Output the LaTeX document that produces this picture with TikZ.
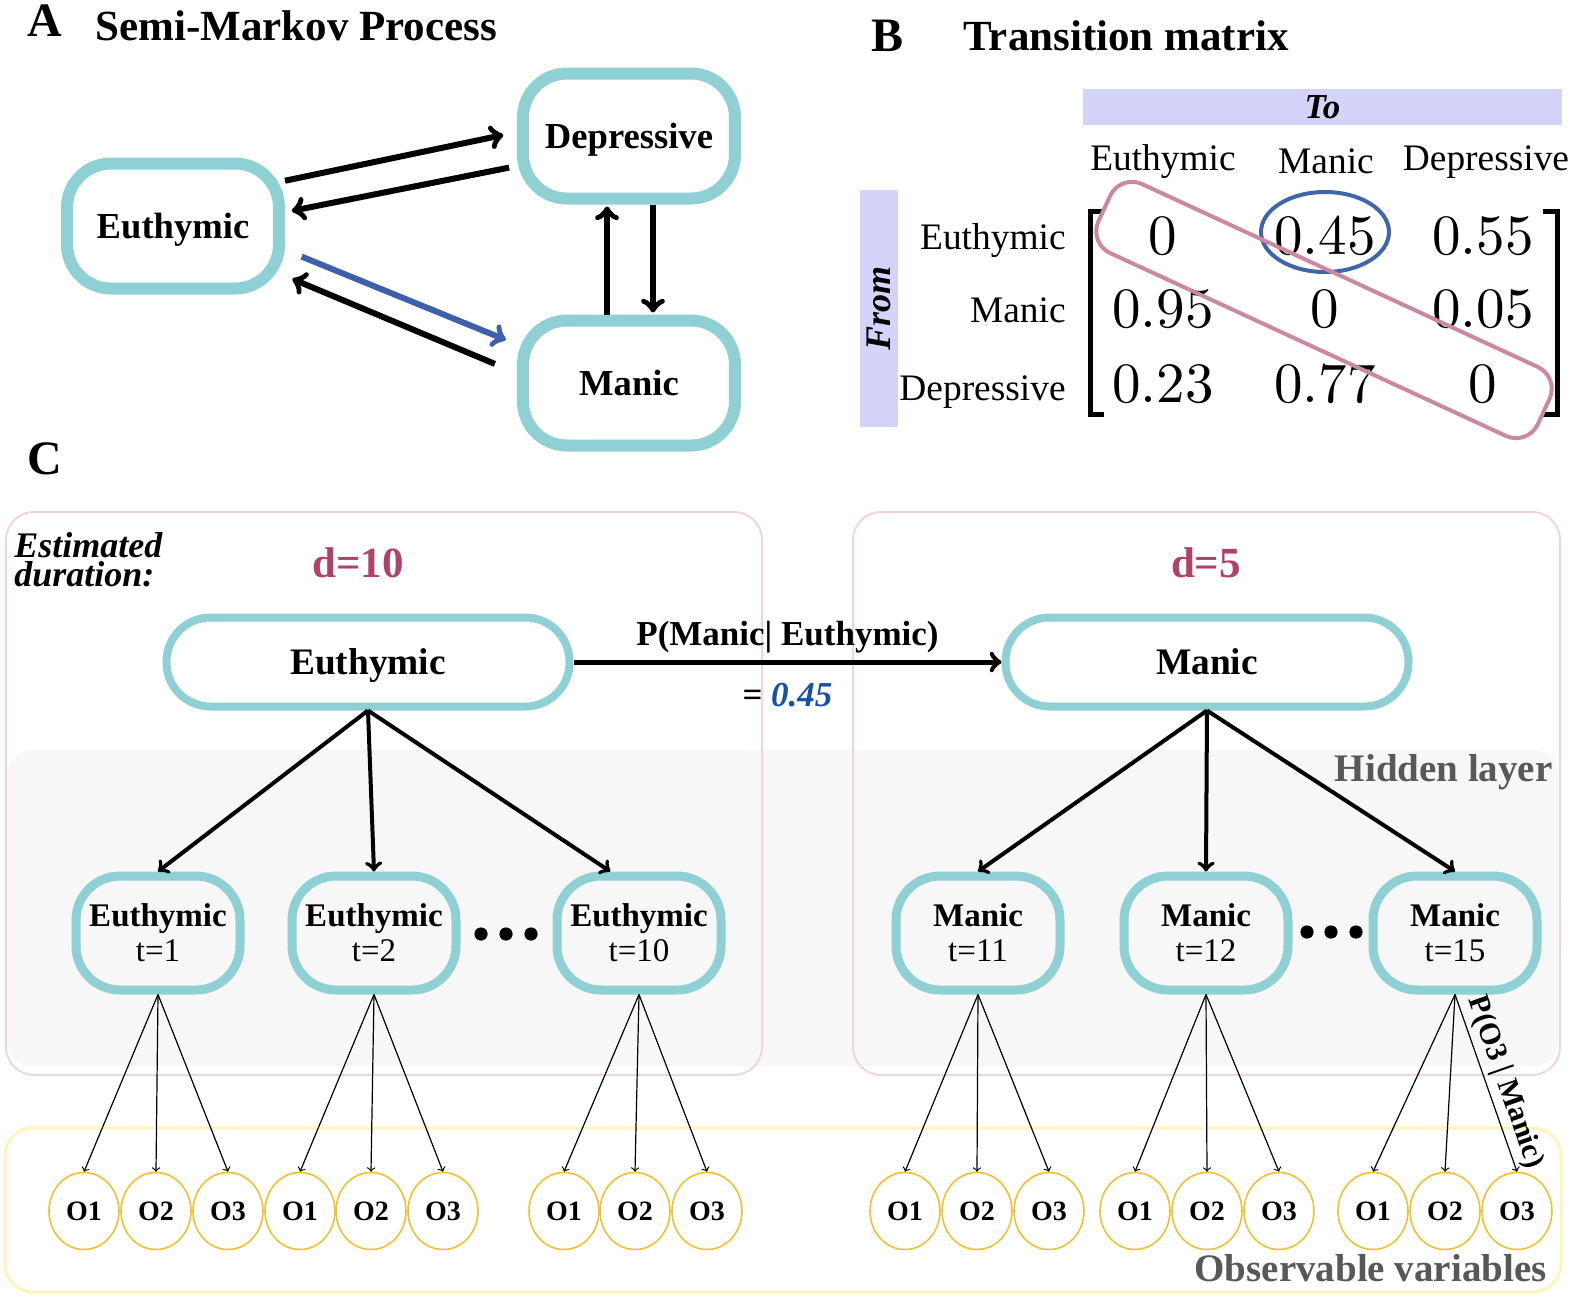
\documentclass[tikz,border=0pt]{standalone}
\usepackage{fontspec}
\setmainfont{Liberation Serif}
\newfontfamily\lmnum{lmroman10-regular}[Extension=.otf]
\usetikzlibrary{shapes.geometric}

\definecolor{teal1}{RGB}{143,208,212}
\definecolor{pinkbox}{RGB}{240,212,222}
\definecolor{yelbox}{RGB}{255,244,185}
\definecolor{ocirc}{RGB}{242,192,48}
\definecolor{lav}{RGB}{212,212,250}
\definecolor{dpink}{RGB}{176,66,106}
\definecolor{ablue}{RGB}{62,96,170}
\definecolor{ringblue}{RGB}{66,100,172}
\definecolor{diagpink}{RGB}{204,136,160}
\definecolor{numblue}{RGB}{22,80,170}
\definecolor{txtgray}{RGB}{88,88,88}
\definecolor{bandgray}{RGB}{247,247,247}

\begin{document}
\begin{tikzpicture}[x=0.5pt, y=-0.5pt,
  statebox/.style={rectangle, rounded corners=22pt, draw=teal1, line width=6pt, minimum width=106pt, minimum height=62.5pt, text depth=0pt, font=\fontsize{18.3}{20}\selectfont\bfseries},
  bigbox/.style={rectangle, rounded corners=22pt, draw=teal1, line width=4pt, minimum width=201.5pt, minimum height=44.5pt, text depth=0pt, font=\fontsize{18.7}{20}\selectfont\bfseries},
  timebox/.style={rectangle, rounded corners=22pt, draw=teal1, line width=4.5pt, minimum width=82pt, minimum height=57pt, align=center, font=\fontsize{16.5}{17.5}\selectfont},
  obsnode/.style={ellipse, draw=ocirc, line width=0.8pt, minimum width=35pt, minimum height=38.5pt, inner sep=0pt, font=\fontsize{14}{14}\selectfont\bfseries},
  panel/.style={anchor=base west, inner sep=0pt, font=\fontsize{24}{24}\selectfont\bfseries},
  heading/.style={anchor=base west, inner sep=0pt, font=\fontsize{21.5}{22}\selectfont\bfseries},
  matlabel/.style={inner sep=0pt, font=\fontsize{18.7}{20}\selectfont},
  matnum/.style={anchor=base, inner sep=0pt, font=\fontsize{28.5}{30}\lmnum},
  dlabel/.style={anchor=base, text=dpink, font=\fontsize{21.5}{22}\selectfont\bfseries},
  layer/.style={anchor=base east, inner sep=0pt, text=txtgray, font=\fontsize{19.5}{20}\selectfont\bfseries},
  trans/.style={->, line width=3pt},
  tree/.style={->, line width=2pt},
  emit/.style={->, line width=0.6pt}]
\useasboundingbox (0,0) rectangle (1570,1297);

% A: semi-Markov process
\node[panel] (labA) at (27,36) {A};
\node[heading] (titA) at (95,40) {Semi-Markov Process};
\node[statebox] (eu) at (173,226) {Euthymic};
\node[statebox] (dep) at (629,136) {Depressive};
\node[statebox] (man) at (629,383) {Manic};
\draw[trans, shorten >=7pt] (eu.22) -- (dep.178);
\draw[trans, shorten <=4pt, shorten >=3.5pt] (dep.195) -- (eu.7);
\draw[trans, draw=ablue, shorten <=9pt, shorten >=6pt] (eu.-12) -- (man.161);
\draw[trans, shorten <=12pt, shorten >=4pt] (man.175) -- (eu.-24);
\draw[trans, shorten >=1pt] ([xshift=-11pt]man.north) -- ([xshift=-11pt]dep.south);
\draw[trans, shorten >=1pt] ([xshift=12pt]dep.south) -- ([xshift=12pt]man.north);

% B: transition matrix
\node[panel] (labB) at (871,51) {B};
\node[heading] (titB) at (963,50) {Transition matrix};
\node[fill=lav, minimum width=239.5pt, minimum height=18pt, inner sep=0pt, font=\fontsize{17.5}{18}\selectfont\bfseries\itshape] (tobar) at (1322.5,107) {To};
\node[fill=lav, rotate=90, minimum width=118.5pt, minimum height=19pt, inner sep=0pt, font=\fontsize{18}{18}\selectfont\bfseries\itshape] (frombar) at (879,308.5) {From};
\node[matlabel, anchor=base] (cEu) at (1163,170) {Euthymic};
\node[matlabel, anchor=base] (cMa) at (1326,173) {Manic};
\node[matlabel, anchor=base] (cDe) at (1486,170) {Depressive};
\node[matlabel, anchor=base east] (rEu) at (1066,249) {Euthymic};
\node[matlabel, anchor=base east] (rMa) at (1066,322) {Manic};
\node[matlabel, anchor=base east] (rDe) at (1066,400) {Depressive};
\node[matnum] (n11) at (1163,254) {0};
\node[matnum] (n12) at (1325,254) {0.45};
\node[matnum] (n13) at (1483,254) {0.55};
\node[matnum] (n21) at (1163,327) {0.95};
\node[matnum] (n22) at (1325,327) {0};
\node[matnum] (n23) at (1483,327) {0.05};
\node[matnum] (n31) at (1163,402) {0.23};
\node[matnum] (n32) at (1325,402) {0.77};
\node[matnum] (n33) at (1483,402) {0};
\draw[line width=2.5pt] (1104,211) -- (1090,211) -- (1090,414) -- (1104,414);
\draw[line width=2.5pt] (1543,211) -- (1557,211) -- (1557,414) -- (1543,414);
\node[ellipse, draw=ringblue, line width=2pt, minimum width=64pt, minimum height=40pt] (ring) at (1325,232) {};
\node[draw=diagpink, line width=2pt, rounded corners=12pt, rotate=-24.8, minimum width=242pt, minimum height=38pt] (diag) at (1324,310) {};

% C: hidden semi-Markov model
\node[panel] (labC) at (27,474) {C};
\fill[bandgray, rounded corners=12pt] (8,750) rectangle (1558,1066);
\draw[pinkbox, line width=1pt, rounded corners=14pt] (6,512) rectangle (762,1075);
\draw[pinkbox, line width=1pt, rounded corners=14pt] (853,512) rectangle (1560,1075);
\draw[yelbox, line width=1.5pt, rounded corners=14pt] (5,1128) rectangle (1561,1292);
\node[anchor=north west, align=left, inner sep=0pt, font=\fontsize{18}{14.5}\selectfont\bfseries\itshape] (est) at (14,532) {Estimated\\duration:};
\node[dlabel] (d10) at (358,577) {d=10};
\node[dlabel] (d5) at (1206,577) {d=5};
\node[layer] (hid) at (1553,781) {Hidden layer};
\node[layer] (obs) at (1547,1281) {Observable variables};

\node[bigbox] (eutC) at (368,662) {Euthymic};
\node[bigbox] (manC) at (1207,662) {Manic};
\draw[->, line width=2.5pt] (eutC) -- (manC)
  node[midway, above, font=\fontsize{17.5}{18}\selectfont\bfseries] {P(Manic| Euthymic)}
  node[midway, below, yshift=-6pt, font=\fontsize{17.5}{18}\selectfont\bfseries] {= \textcolor{numblue}{\textit{0.45}}};

\node[timebox] (e1) at (158,933) {\textbf{Euthymic}\\t=1};
\node[timebox] (e2) at (374,933) {\textbf{Euthymic}\\t=2};
\node[timebox] (e10) at (639,933) {\textbf{Euthymic}\\t=10};
\node[timebox] (m11) at (978,933) {\textbf{Manic}\\t=11};
\node[timebox] (m12) at (1206,933) {\textbf{Manic}\\t=12};
\node[timebox] (m15) at (1455,933) {\textbf{Manic}\\t=15};
\fill (481,934) circle [radius=3.3pt];
\fill (506,934) circle [radius=3.3pt];
\fill (531,934) circle [radius=3.3pt];
\fill (1307,932) circle [radius=3.3pt];
\fill (1331,932) circle [radius=3.3pt];
\fill (1356,932) circle [radius=3.3pt];
\draw[tree] (eutC.south) -- (e1.north);
\draw[tree] (eutC.south) -- (e2.north);
\draw[tree] (eutC.south) -- (e10.115);
\draw[tree] (manC.south) -- (m11.north);
\draw[tree] (manC.south) -- (m12.north);
\draw[tree] (manC.south) -- (m15.north);

\node[obsnode] (e1o1) at (84,1211) {O1};
\node[obsnode] (e1o2) at (156,1211) {O2};
\node[obsnode] (e1o3) at (228,1211) {O3};
\node[obsnode] (e2o1) at (300,1211) {O1};
\node[obsnode] (e2o2) at (371,1211) {O2};
\node[obsnode] (e2o3) at (443,1211) {O3};
\node[obsnode] (e10o1) at (564,1211) {O1};
\node[obsnode] (e10o2) at (635,1211) {O2};
\node[obsnode] (e10o3) at (707,1211) {O3};
\node[obsnode] (m11o1) at (905,1211) {O1};
\node[obsnode] (m11o2) at (977,1211) {O2};
\node[obsnode] (m11o3) at (1049,1211) {O3};
\node[obsnode] (m12o1) at (1135,1211) {O1};
\node[obsnode] (m12o2) at (1207,1211) {O2};
\node[obsnode] (m12o3) at (1279,1211) {O3};
\node[obsnode] (m15o1) at (1373,1211) {O1};
\node[obsnode] (m15o2) at (1445,1211) {O2};
\node[obsnode] (m15o3) at (1517,1211) {O3};
\draw[emit] (e1.south) -- (e1o1.north);
\draw[emit] (e1.south) -- (e1o2.north);
\draw[emit] (e1.south) -- (e1o3.north);
\draw[emit] (e2.south) -- (e2o1.north);
\draw[emit] (e2.south) -- (e2o2.north);
\draw[emit] (e2.south) -- (e2o3.north);
\draw[emit] (e10.south) -- (e10o1.north);
\draw[emit] (e10.south) -- (e10o2.north);
\draw[emit] (e10.south) -- (e10o3.north);
\draw[emit] (m11.south) -- (m11o1.north);
\draw[emit] (m11.south) -- (m11o2.north);
\draw[emit] (m11.south) -- (m11o3.north);
\draw[emit] (m12.south) -- (m12o1.north);
\draw[emit] (m12.south) -- (m12o2.north);
\draw[emit] (m12.south) -- (m12o3.north);
\draw[emit] (m15.south) -- (m15o1.north);
\draw[emit] (m15.south) -- (m15o2.north);
\draw[emit] (m15.south) -- (m15o3.north)
  node[pos=0.53, sloped, above, inner sep=2pt, font=\fontsize{15}{15}\selectfont\bfseries] {P(O3 | Manic)};
\end{tikzpicture}
\end{document}
